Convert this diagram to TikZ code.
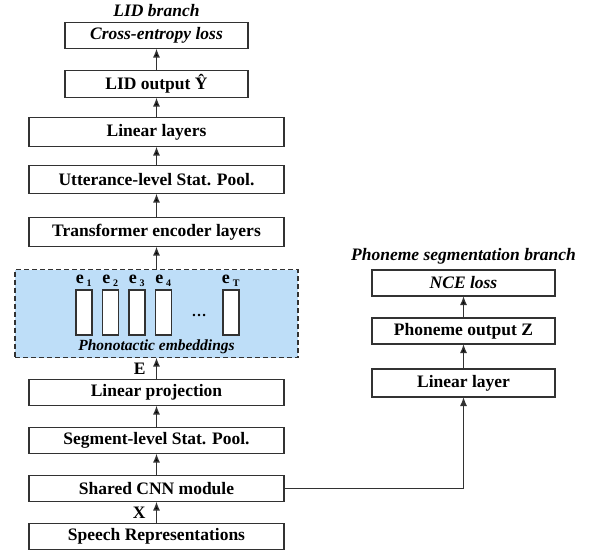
\documentclass[tikz,border=0pt]{standalone}
\usepackage{fontspec}
\setmainfont{Liberation Serif}
\usepackage{tikz}
\usetikzlibrary{arrows.meta,positioning}
\definecolor{hgray}{RGB}{50,50,50}
\definecolor{hsky}{RGB}{190,222,248}

\begin{document}
\begin{tikzpicture}[x=1pt,y=1pt,>={Latex[length=9pt,width=7pt]},line width=1.3pt,node distance=22pt,
	blk/.style={draw=hgray,rectangle,minimum width=255pt,minimum height=26pt,inner sep=0pt,outer sep=0pt,font=\fontsize{17.5}{20}\selectfont\bfseries},
	sblk/.style={blk,minimum width=183pt},
	ttl/.style={inner sep=0pt,font=\fontsize{17.5}{20}\selectfont\bfseries\itshape},
	emb/.style={draw=hgray,fill=white,minimum width=16pt,minimum height=45pt,inner sep=0pt,outer sep=0pt},
	elab/.style={inner sep=0pt,font=\fontsize{18}{20}\selectfont\bfseries}]
	\useasboundingbox (0,0) rectangle (593,-554);

	% LID branch
	\node[blk] (S) at (156.5,-536.5) {Speech Representations};
	\node[blk] (C) [above=of S] {Shared CNN module};
	\node[blk] (P) [above=of C] {Segment-level Stat. Pool.};
	\node[blk] (L) [above=of P] {Linear projection};
	\node[draw=hgray,dashed,dash pattern=on 5pt off 3pt,fill=hsky,minimum width=283pt,minimum height=88pt,inner sep=0pt,outer sep=0pt] (emb) [above=of L] {};
	\node[blk,minimum height=29pt] (T) [above=23pt of emb] {Transformer encoder layers};
	\node[blk,minimum height=28pt] (U) [above=24pt of T] {Utterance-level Stat. Pool.};
	\node[blk,minimum height=29pt] (LL) [above=19pt of U] {Linear layers};
	\node[sblk,minimum height=27pt] (Y) [above=20pt of LL] {LID output \^{Y}};
	\node[sblk] (CE) [above=22pt of Y] {\itshape Cross-entropy loss};
	\node[ttl] (lidt) [above=5pt of CE] {LID branch};

	% embeddings
	\foreach \i/\xx in {1/84,2/110.5,3/137,4/163.5,T/231}{
		\node[emb] (e\i) at (\xx,-312.5) {};
		\node[elab] at ([yshift=9pt]e\i.north) {e\,\textsubscript{\fontsize{10}{10}\selectfont\i}};
	}
	\node[elab,font=\fontsize{15}{18}\selectfont\bfseries] (dots) at (199,-315) {\dots};
	\node[inner sep=0pt,font=\fontsize{15.5}{18}\selectfont\bfseries\itshape] (pe) at (156.5,-347) {Phonotactic embeddings};

	% Phoneme segmentation branch
	\node[sblk,minimum height=28pt] (PL) at (463.5,-383) {Linear layer};
	\node[sblk] (PZ) [above=25pt of PL] {Phoneme output Z};
	\node[sblk] (NCE) [above=of PZ] {\itshape NCE loss};
	\node[ttl] (pst) [above=5pt of NCE] {Phoneme segmentation branch};

	\path[->,draw=hgray,font=\fontsize{17.5}{20}\selectfont\bfseries]
		(S) edge node[left=7pt] {X} (C)
		(C) edge (P)
		(P) edge (L)
		(L) edge node[left=7pt] {E} (emb)
		(emb) edge (T)
		(T) edge (U)
		(U) edge (LL)
		(LL) edge (Y)
		(Y) edge (CE)
		(PL) edge (PZ)
		(PZ) edge (NCE)
	;
	\draw[->,hgray] (C.east) -| (PL.south);
\end{tikzpicture}
\end{document}
